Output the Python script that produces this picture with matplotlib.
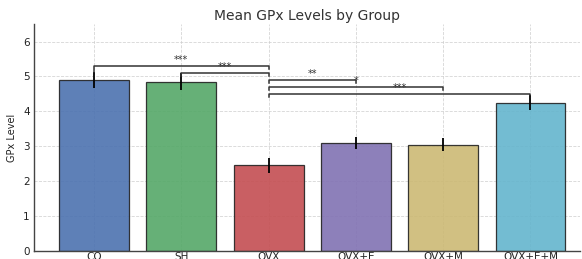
import matplotlib
matplotlib.use("Agg")
import matplotlib.pyplot as plt
import numpy as np

groups = ["CO", "SH", "OVX", "OVX+E", "OVX+M", "OVX+E+M"]
means = [4.9, 4.85, 2.45, 3.1, 3.05, 4.25]
errors = [0.23, 0.25, 0.22, 0.17, 0.18, 0.22]
colors = ["#4C72B0", "#55A868", "#C44E52", "#8172B3", "#CCB974", "#64B5CD"]

# comparisons: (i, j, bracket height, label)
comparisons = [(0, 2, 5.3, "***"), (1, 2, 5.1, "***"), (2, 3, 4.9, "**"),
               (2, 4, 4.7, "*"), (2, 5, 4.5, "***")]

fig = plt.figure(figsize=(5.82, 2.59), dpi=100)
ax = fig.add_axes([0.058, 0.031, 0.939, 0.876])

x = np.arange(len(groups))
ax.bar(x, means, width=0.8, color=colors, alpha=0.9, edgecolor="#222222",
       linewidth=0.9, zorder=2)
ax.errorbar(x, means, yerr=errors, fmt="none", ecolor="black", elinewidth=1.3,
            capsize=0, zorder=3)


def leg_bottom(k, y):
    top = means[k] + errors[k]
    if y - 0.25 < top < y:
        return top
    return y - 0.1


for i, j, y, lab in comparisons:
    ax.plot([x[i], x[i], x[j], x[j]], [leg_bottom(i, y), y, y, leg_bottom(j, y)],
            color="#333333", lw=1.1, zorder=4)
    ax.text((x[i] + x[j]) / 2, y + 0.17, lab, ha="center", va="center",
            fontsize=7, color="#333333", zorder=5)

ax.set_xlim(-0.69, 5.57)
ax.set_ylim(0, 6.5)
ax.set_xticks(x)
ax.set_xticklabels(groups, fontsize=7.5, color="#222222")
ax.set_yticks(range(0, 7))
ax.tick_params(axis="y", labelsize=7.5, length=0, pad=3, colors="#222222")
ax.tick_params(axis="x", length=0, pad=1)
ax.set_ylabel("GPx Level", fontsize=7, color="#222222", labelpad=4)
ax.set_title("Mean GPx Levels by Group", fontsize=10, color="#333333", pad=3)
ax.grid(True, linestyle="--", color="#cccccc", linewidth=0.6, alpha=0.8, zorder=0)
ax.set_axisbelow(True)
for s in ["top", "right"]:
    ax.spines[s].set_visible(False)
for s in ["left", "bottom"]:
    ax.spines[s].set_color("#444444")
    ax.spines[s].set_linewidth(1.0)

fig.savefig("out.png", dpi=100)
